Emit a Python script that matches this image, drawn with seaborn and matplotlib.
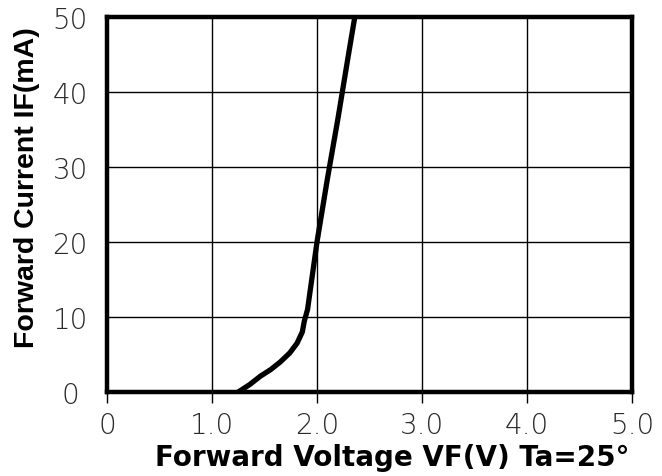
import matplotlib
matplotlib.use("Agg")
import matplotlib.pyplot as plt
import seaborn as sns
import pandas as pd

# Data
voltage = [1.25, 1.36, 1.46, 1.56, 1.65, 1.74, 1.81, 1.86, 1.88, 1.91, 2.00, 2.10, 2.20, 2.30, 2.36]
current = [0.0, 1.0, 2.1, 3.0, 4.0, 5.2, 6.5, 8.0, 9.5, 11.0, 20.0, 28.5, 36.5, 45.0, 50.0]
x_ticks = [0, 1, 2, 3, 4, 5]
x_labels = ["0", "1.0", "2.0", "3.0", "4.0", "5.0"]
y_ticks = [0, 10, 20, 30, 40, 50]
y_labels = ["0", "10", "20", "30", "40", "50"]

df = pd.DataFrame({"VF": voltage, "IF": current})

sns.set_theme(style="white")
plt.rcParams['font.family'] = ['DejaVu Sans']

fig = plt.figure(figsize=(6.62, 4.77), dpi=100)
ax = fig.add_axes([107/662, 1-393/477, (632-107)/662, (393-18)/477])

sns.lineplot(data=df, x="VF", y="IF", ax=ax, color="black", linewidth=3.8,
             sort=False, estimator=None, zorder=5)

ax.set_xlim(0, 5)
ax.set_ylim(0, 50)
ax.set_xticks(x_ticks)
ax.set_xticklabels(x_labels)
ax.set_yticks(y_ticks)
ax.set_yticklabels(y_labels)
ax.grid(True, color="black", linewidth=1.0)
for s in ax.spines.values():
    s.set_color("black")
    s.set_linewidth(3.2)

ax.tick_params(axis="x", direction="out", length=8, width=1, color="black", pad=6,
               bottom=True)
ax.tick_params(axis="y", length=0, pad=26.5, left=False)
for lbl in ax.get_xticklabels() + ax.get_yticklabels():
    lbl.set_fontsize(20)
    lbl.set_fontweight("ultralight")
    lbl.set_color("#2a2a2a")
for lbl in ax.get_yticklabels():
    lbl.set_horizontalalignment("center")

ax.set_xlabel("Forward Voltage VF(V) Ta=25°", fontsize=20, fontweight="bold",
              family="DejaVu Sans", color="black", va="top")
ax.xaxis.set_label_coords(0.543, -0.136)
ax.set_ylabel("Forward Current IF(mA)", fontsize=20.5, fontweight="bold",
              family="Liberation Sans", color="black")
ax.yaxis.set_label_coords(-0.128, 0.548)

fig.savefig("out.png", dpi=100)
